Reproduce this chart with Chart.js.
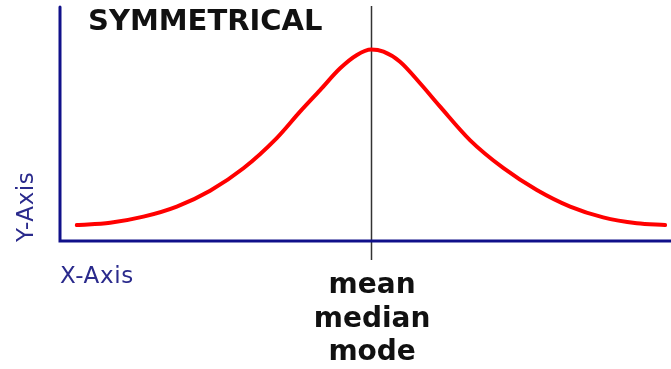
<!DOCTYPE html>
<html>
<head>
<meta charset="utf-8">
<script src="https://cdn.jsdelivr.net/npm/chart.js@4"></script>
<style>
html,body{margin:0;padding:0;background:#fff;}
#wrap{width:671px;height:369px;position:relative;}
</style>
</head>
<body>
<div id="wrap"><canvas id="c" width="671" height="369"></canvas></div>
<script>
// Curve positions (x relative to the centre, y height above the x-axis)
const curveX = [-9.98, -8.85, -7.72, -6.59, -5.46, -4.33, -3.20, -2.41, -1.73, -1.05, -0.48, 0, 0.42, 0.98, 1.66, 2.34, 3.36, 4.49, 5.62, 6.75, 7.87, 9.01, 9.97];
const curveY = [6.8, 7.8, 10.4, 14.7, 21.5, 31.1, 44.0, 55.3, 64.5, 73.8, 79.5, 81.8, 80.9, 76.6, 67.4, 57.4, 43.0, 31.1, 21.8, 14.7, 10.1, 7.6, 6.8];
const centreX = 0;
const centreLabels = ['mean', 'median', 'mode'];
const chartTitle = 'SYMMETRICAL';
const xAxisLabel = 'X-Axis';
const yAxisLabel = 'Y-Axis';
const xRange = [-10.55, 10.17];
const yRange = [0, 100];

const points = curveX.map((x, i) => ({x: x, y: curveY[i]}));

const NAVY = '#10108a';
const TEXTBLUE = '#2a2a8c';

const decor = {
  id: 'decor',
  beforeDatasetsDraw(chart) {
    const {ctx, scales} = chart;
    const xs = scales.x, ys = scales.y;
    const cx = Math.round(xs.getPixelForValue(centreX)) + 0.5;
    ctx.save();
    ctx.strokeStyle = '#333333';
    ctx.lineWidth = 1.5;
    ctx.beginPath();
    ctx.moveTo(cx, 6);
    ctx.lineTo(cx, ys.getPixelForValue(0) + 19);
    ctx.stroke();
    ctx.restore();
  },
  afterDatasetsDraw(chart) {
    const {ctx, scales} = chart;
    const xs = scales.x, ys = scales.y;
    const x0 = xs.getPixelForValue(xRange[0]);
    const y0 = ys.getPixelForValue(0);
    const yTop = ys.getPixelForValue(yRange[1]);
    ctx.save();
    ctx.strokeStyle = NAVY;
    ctx.lineWidth = 3;
    ctx.lineCap = 'round';
    ctx.beginPath();
    ctx.moveTo(x0, yTop);
    ctx.lineTo(x0, y0);
    ctx.lineTo(chart.width, y0);
    ctx.stroke();
    ctx.fillStyle = '#111111';
    ctx.font = 'bold 29px "DejaVu Sans"';
    ctx.textAlign = 'left';
    ctx.textBaseline = 'alphabetic';
    ctx.fillText(chartTitle, 88, 30);
    ctx.fillStyle = TEXTBLUE;
    ctx.font = '23px "DejaVu Sans"';
    ctx.letterSpacing = '0.6px';
    ctx.fillText(xAxisLabel, 60, 283);
    ctx.save();
    ctx.translate(33, 242);
    ctx.rotate(-Math.PI / 2);
    ctx.fillText(yAxisLabel, 0, 0);
    ctx.restore();
    ctx.letterSpacing = '0px';
    const cx = xs.getPixelForValue(centreX);
    ctx.fillStyle = '#111111';
    ctx.font = 'bold 28px "DejaVu Sans"';
    ctx.textAlign = 'center';
    const baselines = [293, 326.5, 360];
    centreLabels.forEach((t, i) => ctx.fillText(t, cx + 1, baselines[i]));
    ctx.restore();
  }
};

new Chart(document.getElementById('c'), {
  type: 'line',
  data: {
    datasets: [{
      data: points,
      borderColor: '#ff0000',
      borderWidth: 4,
      pointRadius: 0,
      fill: false,
      cubicInterpolationMode: 'monotone',
      borderCapStyle: 'round'
    }]
  },
  options: {
    responsive: false,
    animation: false,
    events: [],
    layout: {padding: {left: 60, top: 7, right: 0, bottom: 128}},
    plugins: {legend: {display: false}, tooltip: {enabled: false}, title: {display: false}},
    scales: {
      x: {type: 'linear', min: xRange[0], max: xRange[1], display: false},
      y: {type: 'linear', min: yRange[0], max: yRange[1], display: false}
    }
  },
  plugins: [decor]
});
</script>
</body>
</html>
